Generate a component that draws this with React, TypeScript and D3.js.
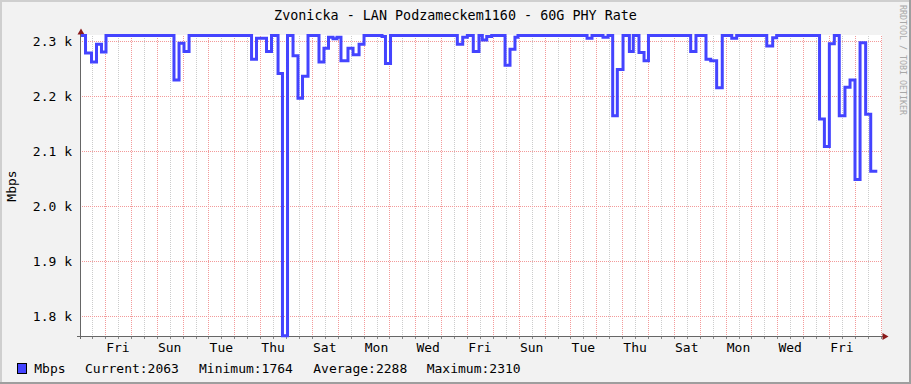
import React from "react";
import * as d3 from "d3";

const TITLE = "Zvonicka - LAN Podzameckem1160 - 60G PHY Rate";
const Y_LABEL = "Mbps";
const WATERMARK = "RRDTOOL / TOBI OETIKER";
const SERIES_NAME = "Mbps";

// graph window: start time and length in hours
const START = new Date(2020, 11, 31, 1, 43, 26);
const SPAN_HOURS = 742.54;

// step changes: hours after START, and the rate (Mbps) that holds from then on
const stepHours = [
  0, 4.2, 9.75, 14.4, 19.0, 23.2, 86.3, 91.0, 95.6, 100.3,
  158.3, 162.9, 172.2, 176.8, 182.9, 187.0, 191.7, 196.8, 201.4, 205.6,
  210.7, 220.9, 225.5, 229.7, 233.9, 237.6, 241.3, 247.8, 252.5, 258.1,
  262.7, 279.4, 282.6, 287.3, 349.3, 354.3, 358.6, 364.1, 369.4, 372.5,
  376.6, 381.2, 393.6, 398.2, 402.8, 405.6, 469.7, 474.3, 484.5, 489.2,
  493.5, 497.8, 503.1, 509.0, 512.6, 517.9, 522.6, 526.7, 565.9, 570.8,
  580.1, 584.5, 590.0, 595.2, 604.0, 608.6, 636.5, 642.0, 645.7, 685.5,
  690.0, 694.6, 699.2, 703.8, 709.1, 713.8, 718.4, 723.1, 728.3, 733.0,
];
const rateMbps = [
  2310, 2278, 2262, 2294, 2280, 2310, 2229, 2296, 2281, 2310,
  2267, 2305, 2281, 2310, 2241, 1764, 2310, 2273, 2196, 2236,
  2310, 2262, 2287, 2307, 2304, 2307, 2264, 2287, 2275, 2294,
  2310, 2308, 2259, 2310, 2294, 2307, 2310, 2281, 2310, 2302,
  2308, 2310, 2256, 2285, 2307, 2310, 2305, 2310, 2307, 2310,
  2164, 2248, 2310, 2281, 2310, 2279, 2264, 2310, 2281, 2310,
  2267, 2264, 2215, 2310, 2305, 2310, 2291, 2306, 2310, 2158,
  2108, 2295, 2310, 2164, 2216, 2229, 2048, 2297, 2167, 2063,
];
const LAST_HOUR = 739.1;

const Y_MIN = 1763.6;
const Y_MAX = 2310.9;
const yTicks = [1800, 1900, 2000, 2100, 2200, 2300];
const yTickLabels = ["1.8 k", "1.9 k", "2.0 k", "2.1 k", "2.2 k", "2.3 k"];

const FIRST_LABEL = new Date(2021, 0, 1, 12, 0, 0);
const dayLabels = ["Fri", "Sun", "Tue", "Thu", "Sat", "Mon", "Wed", "Fri", "Sun", "Tue", "Thu", "Sat", "Mon", "Wed", "Fri"];

const statNames = ["Current", "Minimum", "Average", "Maximum"];
const statValues = [2063, 1764, 2288, 2310];

export default function App() {
  const W = 911;
  const H = 384;
  const left = 81;
  const right = 881;
  const top = 35;
  const bottom = 336;
  const font = "'DejaVu Sans Mono', monospace";
  const fs = 13;
  const lineColor = "#4444ff";
  const majorColor = "#f39a9a";
  const minorColor = "#cccccc";

  const END = d3.timeMillisecond.offset(START, SPAN_HOURS * 3600e3);
  const x = d3.scaleTime().domain([START, END]).range([left, right]);
  const y = d3.scaleLinear().domain([Y_MIN, Y_MAX]).range([bottom, top]);

  const pts = stepHours.map((h, i) => ({ t: d3.timeMillisecond.offset(START, h * 3600e3), v: rateMbps[i] }));
  pts.push({ t: d3.timeMillisecond.offset(START, LAST_HOUR * 3600e3), v: rateMbps[rateMbps.length - 1] });

  const line = d3
    .line<{ t: Date; v: number }>()
    .x((d) => x(d.t))
    .y((d) => y(d.v))
    .curve(d3.curveStepAfter);

  const minor = d3.timeHour.every(12)!.range(START, END);
  const major = d3.timeDay.range(START, END);
  const px = (v: number) => Math.round(v);

  const labelDates = dayLabels.map((_, i) => d3.timeDay.offset(FIRST_LABEL, 2 * i));
  const legendX = [85, 199, 313.3, 426.7];

  return (
    <svg width={W} height={H} style={{ position: "absolute", left: 0, top: 0, display: "block" }} fontFamily={font}>
      <defs>
        <pattern id="vMinor" width={1} height={2} patternUnits="userSpaceOnUse">
          <rect x={0} y={0} width={1} height={1} fill={minorColor} />
        </pattern>
        <pattern id="vMajor" width={1} height={2} patternUnits="userSpaceOnUse">
          <rect x={0} y={0} width={1} height={1} fill={majorColor} />
        </pattern>
        <pattern id="hMajor" width={2} height={1} patternUnits="userSpaceOnUse">
          <rect x={0} y={0} width={1} height={1} fill={majorColor} />
        </pattern>
      </defs>
      <rect x={0} y={0} width={W} height={H} fill="#f2f2f2" />
      <rect x={0} y={0} width={W} height={2} fill="#cfcfcf" />
      <rect x={0} y={0} width={2} height={H} fill="#cfcfcf" />
      <rect x={0} y={H - 2} width={W} height={2} fill="#9e9e9e" />
      <rect x={W - 2} y={0} width={2} height={H} fill="#9e9e9e" />

      <rect x={left} y={top} width={right - left} height={bottom - top} fill="#ffffff" />

      {minor.map((d, i) => (
        <g key={"mi" + i}>
          <rect x={px(x(d))} y={top} width={1} height={bottom - top} fill="url(#vMinor)" />
          <rect x={px(x(d))} y={bottom} width={1} height={3} fill="#888" />
        </g>
      ))}
      {major.map((d, i) => (
        <g key={"ma" + i}>
          <rect x={px(x(d))} y={top} width={1} height={bottom - top} fill="#ffffff" />
          <rect x={px(x(d))} y={top} width={1} height={bottom - top} fill="url(#vMajor)" />
        </g>
      ))}
      {yTicks.map((v, i) => (
        <g key={"yt" + i}>
          <rect x={left - 2} y={px(y(v))} width={right - left + 2} height={1} fill="url(#hMajor)" />
          <text x={72} y={y(v)} dy="0.36em" textAnchor="end" fontSize={fs} fill="#000">
            {yTickLabels[i]}
          </text>
        </g>
      ))}

      <line x1={80.5} x2={80.5} y1={33} y2={339} stroke="#666" />
      <line x1={77} x2={884} y1={336.5} y2={336.5} stroke="#666" />
      <path d="M77.5,34.5 L84.5,34.5 L81,28.5 Z" fill="#8b1a1a" />
      <path d="M882.5,333 L882.5,340 L888.5,336.5 Z" fill="#8b1a1a" />

      <path d={line(pts) || ""} fill="none" stroke={lineColor} strokeWidth={3} strokeLinejoin="miter" />

      {labelDates.map((d, i) => (
        <text key={"xl" + i} x={x(d)} y={351.5} textAnchor="middle" fontSize={fs} fill="#000">
          {dayLabels[i]}
        </text>
      ))}

      <text x={455.5} y={19.5} textAnchor="middle" fontSize={13.4} fill="#000">
        {TITLE}
      </text>
      <text transform="translate(16,186) rotate(-90)" textAnchor="middle" fontSize={fs} fill="#000">
        {Y_LABEL}
      </text>
      <text transform="translate(899.5,5) rotate(90)" fontSize={8.3} fill="#a8a8a8">
        {WATERMARK}
      </text>

      <rect x={17.5} y={363.5} width={9} height={10} fill={lineColor} stroke="#000" />
      <text x={34.3} y={372.5} fontSize={fs} fill="#000">
        {SERIES_NAME}
      </text>
      {statNames.map((n, i) => (
        <text key={"st" + i} x={legendX[i]} y={372.5} fontSize={fs} fill="#000">
          {n + ":" + statValues[i]}
        </text>
      ))}
    </svg>
  );
}
